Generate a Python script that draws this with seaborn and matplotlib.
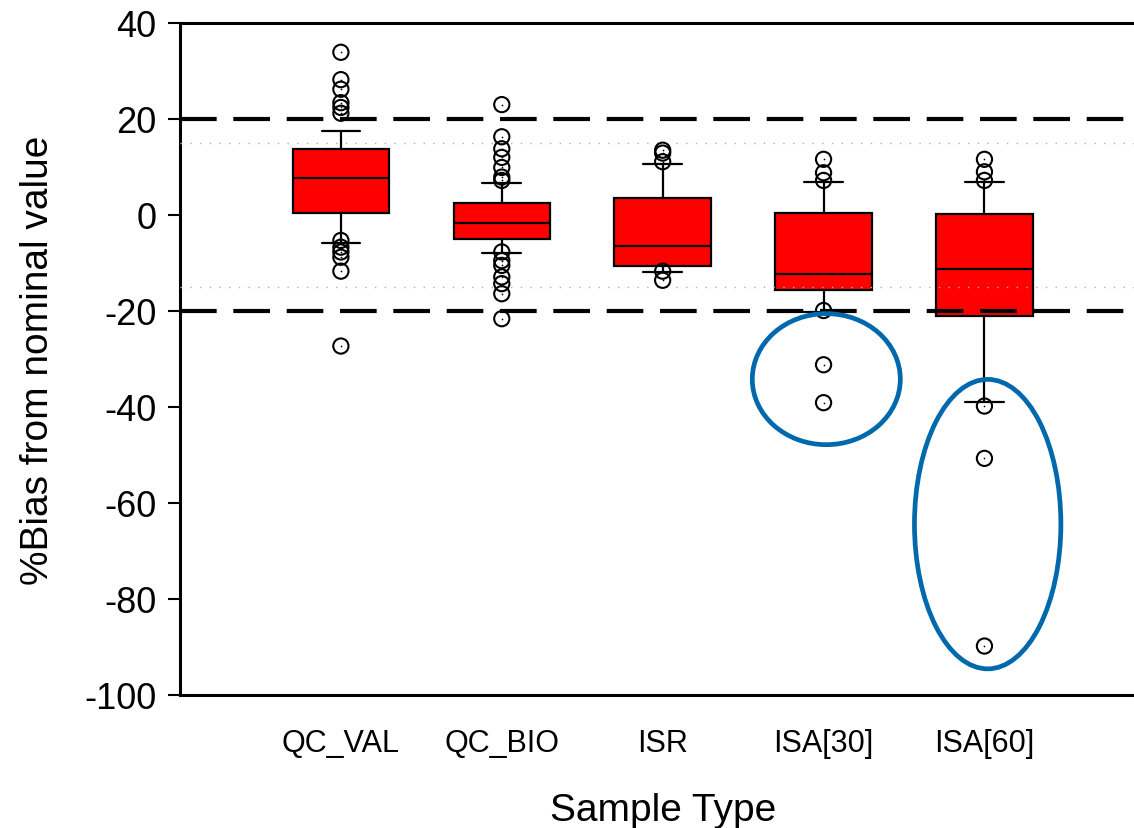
import matplotlib
matplotlib.use("Agg")
import matplotlib.pyplot as plt
from matplotlib.patches import Ellipse
import seaborn as sns
import pandas as pd

# ---- data ----
categories = ["QC_VAL", "QC_BIO", "ISR", "ISA[30]", "ISA[60]"]
q1 = [0.5, -4.9, -10.7, -15.7, -21.1]
median = [7.8, -1.6, -6.5, -12.3, -11.3]
q3 = [13.7, 2.6, 3.5, 0.4, 0.15]
whisker_low = [-5.8, -8.0, -11.9, -20.3, -38.9]
whisker_high = [17.5, 6.6, 10.6, 6.8, 6.8]
fliers = [
    [33.9, 28.2, 26.2, 23.4, 22.4, 21.2, -5.3, -6.7, -7.7, -8.8, -11.7, -27.3],
    [23.0, 16.3, 13.8, 12.0, 9.9, 7.9, 7.2, -7.7, -9.5, -10.5, -12.9, -14.3, -16.4, -21.6],
    [13.5, 12.9, 11.1, -11.7, -13.6],
    [11.6, 8.8, 7.2, -19.9, -31.2, -39.1],
    [11.6, 9.0, 7.2, -39.8, -50.7, -89.8],
]
limit_lines = [20, -20]
guide_lines = [15, -15]
y_ticks = [40, 20, 0, -20, -40, -60, -80, -100]

sns.set_style("white")
plt.rcParams["font.family"] = ["Liberation Sans", "DejaVu Sans"]
plt.rcParams["text.color"] = "black"
plt.rcParams["axes.labelcolor"] = "black"
plt.rcParams["xtick.color"] = "black"
plt.rcParams["ytick.color"] = "black"

fig = plt.figure(figsize=(11.34, 8.29), dpi=100)
ax = fig.add_axes([180 / 1134, 1 - 696 / 829, 1 - 180 / 1134 + 0.01, (696 - 24) / 829])

positions = list(range(1, len(categories) + 1))
stats = []
for i, name in enumerate(categories):
    stats.append(dict(label=name, med=median[i], q1=q1[i], q3=q3[i],
                      whislo=whisker_low[i], whishi=whisker_high[i], fliers=[]))

ax.bxp(stats, positions=positions, widths=0.6, patch_artist=True, showfliers=False,
       boxprops=dict(facecolor="#FF0000", edgecolor="black", linewidth=1.6),
       medianprops=dict(color="black", linewidth=1.6),
       whiskerprops=dict(color="black", linewidth=1.6),
       capprops=dict(color="black", linewidth=1.6),
       capwidths=0.24, zorder=2)

# reference lines
for v in limit_lines:
    ax.axhline(v, color="black", linewidth=3.0, dashes=(8.8, 4.0), zorder=3)
for v in guide_lines:
    ax.axhline(v, color="#b0b0b0", linewidth=1.0, dashes=(1, 6), zorder=3)

# outliers
rows = []
for i, vals in enumerate(fliers):
    for v in vals:
        rows.append({"pos": positions[i], "value": v})
df = pd.DataFrame(rows)
sns.scatterplot(data=df, x="pos", y="value", ax=ax, marker="o", s=120,
                facecolor="none", edgecolor="black", linewidth=1.5, zorder=4)
sns.scatterplot(data=df, x="pos", y="value", ax=ax, marker="o", s=1.5,
                color="black", linewidth=0, zorder=4)

# highlight ellipses
ax.add_patch(Ellipse((4.017, -34.2), 0.92, 27.3, fill=False, edgecolor="#0068AC",
                     linewidth=3.4, zorder=5))
ax.add_patch(Ellipse((5.02, -64.4), 0.91, 60.3, fill=False, edgecolor="#0068AC",
                     linewidth=3.4, zorder=5))

ax.set_xlim(0.0, 6.0)
ax.set_ylim(-100, 40)
ax.set_xticks(positions)
ax.set_xticklabels(categories, fontsize=22, color="black")
ax.set_yticks(y_ticks)
ax.set_yticklabels([str(t) for t in y_ticks], fontsize=26, color="black")
ax.tick_params(axis="y", direction="out", length=9, width=1.5, pad=8, left=True)
ax.tick_params(axis="x", length=0, pad=24)
ax.set_xlabel("Sample Type", fontsize=28, labelpad=24, color="black")
ax.set_ylabel("%Bias from nominal value", fontsize=28, labelpad=20, color="black")

for s in ["left", "top", "right", "bottom"]:
    ax.spines[s].set_color("black")
    ax.spines[s].set_linewidth(2.2)
ax.grid(False)

fig.savefig("out.png", dpi=100)
